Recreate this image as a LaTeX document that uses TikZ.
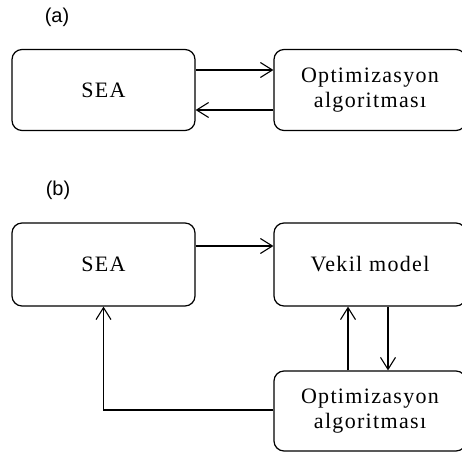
\documentclass[tikz,border=0pt]{standalone}
\usepackage{fontspec}
\setmainfont{Liberation Serif}[LetterSpace=6]
\newfontfamily\labelfont{Liberation Sans}
\usetikzlibrary{arrows.meta}
\begin{document}
\begin{tikzpicture}[x=1pt,y=-1pt,
  block/.style={draw, line width=1.2pt, rounded corners=10pt, align=center,
    font=\fontsize{22}{25}\selectfont, inner sep=0pt},
  flow/.style={draw, line width=1.1pt, -{Straight Barb[length=12pt,width=15pt,line width=1.1pt]}},
  tag/.style={font=\labelfont\fontsize{20}{22}\selectfont}]
\useasboundingbox (0,0) rectangle (462,454);
% (a) direct coupling
\node[tag] (la) at (57,17) {(a)};
\node[block, minimum width=183pt, minimum height=81pt] (seaA) at (103.5,90) {SEA};
\node[block, minimum width=192pt, minimum height=81pt] (optA) at (370,90) {Optimizasyon\\algoritması};
\draw[flow] ([yshift=20pt]seaA.east) -- ([yshift=20pt]optA.west);
\draw[flow] ([yshift=-20pt]optA.west) -- ([yshift=-20pt]seaA.east);
% (b) coupling through a surrogate model
\node[tag] (lb) at (58,190) {(b)};
\node[block, minimum width=183pt, minimum height=83pt] (seaB) at (103.5,264.5) {SEA};
\node[block, minimum width=192pt, minimum height=83pt] (vekil) at (370,264.5) {Vekil model};
\node[block, minimum width=192pt, minimum height=80pt] (optB) at (370,411) {Optimizasyon\\algoritması};
\draw[flow] ([yshift=18.5pt]seaB.east) -- ([yshift=18.5pt]vekil.west);
\draw[flow] ([xshift=-22pt]optB.north) -- ([xshift=-22pt]vekil.south);
\draw[flow] ([xshift=18pt]vekil.south) -- ([xshift=18pt]optB.north);
\draw[flow] ([yshift=1pt]optB.west) -| (seaB.south);
\end{tikzpicture}
\end{document}
